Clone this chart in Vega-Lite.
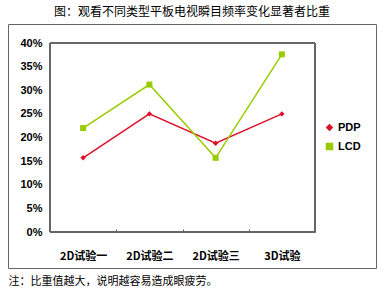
{
  "$schema": "https://vega.github.io/schema/vega-lite/v6.json",
  "width": 368,
  "height": 244,
  "autosize": "none",
  "padding": {"left": 8, "top": 24, "right": 15, "bottom": 23},
  "title": {
    "text": "图：观看不同类型平板电视瞬目频率变化显著者比重",
    "font": "Noto Sans CJK SC",
    "fontSize": 12,
    "fontWeight": "normal",
    "color": "#000000",
    "anchor": "middle",
    "offset": 5
  },
  "data": {
    "values": [
      {"cat": "2D试验一", "series": "PDP", "value": 0.157},
      {"cat": "2D试验二", "series": "PDP", "value": 0.25},
      {"cat": "2D试验三", "series": "PDP", "value": 0.188},
      {"cat": "3D试验", "series": "PDP", "value": 0.25},
      {"cat": "2D试验一", "series": "LCD", "value": 0.22},
      {"cat": "2D试验二", "series": "LCD", "value": 0.312},
      {"cat": "2D试验三", "series": "LCD", "value": 0.157},
      {"cat": "3D试验", "series": "LCD", "value": 0.376}
    ]
  },
  "layer": [
    {
      "mark": {"type": "line", "strokeWidth": 1.5},
      "encoding": {
        "x": {
          "field": "cat", "type": "nominal", "sort": null,
          "scale": {"type": "band", "range": [42, 307], "paddingInner": 0, "paddingOuter": 0},
          "axis": {
            "orient": "bottom", "offset": -36,
            "title": "注：比重值越大，说明越容易造成眼疲劳。",
            "titleFont": "Noto Sans CJK SC", "titleFontSize": 11, "titleFontWeight": "normal",
            "titleColor": "#000000", "titleX": 0, "titleY": 49, "titleAlign": "left", "titleBaseline": "middle",
            "titleAnchor": "start",
            "labelAngle": 0, "labelFont": "Noto Sans CJK SC", "labelFontSize": 11, "labelFontWeight": "bold",
            "labelColor": "#000000", "labelPadding": 21,
            "tickBand": "extent", "ticks": true, "tickSize": -3, "tickWidth": 1, "tickColor": "#555555",
            "domain": true, "domainColor": "#666666", "grid": false
          }
        },
        "y": {
          "field": "value", "type": "quantitative",
          "scale": {"domain": [0, 0.4], "nice": false, "range": [208, 19]},
          "axis": {
            "orient": "left", "offset": -42, "title": null,
            "values": [0, 0.05, 0.1, 0.15, 0.2, 0.25, 0.3, 0.35, 0.4],
            "format": ".0%",
            "labelFont": "Liberation Sans", "labelFontSize": 11, "labelFontWeight": "bold",
            "labelColor": "#000000", "labelPadding": 8,
            "ticks": false, "tickSize": 0, "domain": true, "domainColor": "#666666", "grid": false
          }
        },
        "color": {
          "field": "series", "type": "nominal",
          "scale": {"domain": ["PDP", "LCD"], "range": ["#E0102A", "#99CC00"]},
          "legend": {
            "title": null, "orient": "none", "legendX": 316, "legendY": 98,
            "labelFont": "Liberation Sans", "labelFontSize": 11, "labelFontWeight": "bold",
            "labelColor": "#000000", "symbolSize": 289, "labelOffset": 3, "rowPadding": 6,
            "symbolStrokeWidth": 1.5,
            "encode": {
              "symbols": {
                "update": {
                  "shape": {"signal": "datum.value === 'PDP' ? 'M-1,0L1,0M0,-0.35L0.35,0L0,0.35L-0.35,0Z' : 'M-1,0L1,0M-0.35,-0.35H0.35V0.35H-0.35Z'"},
                  "fill": {"signal": "scale('color', datum.value)"},
                  "fillOpacity": {"value": 1}
                }
              }
            }
          }
        }
      }
    },
    {
      "mark": {"type": "point", "filled": true, "opacity": 1, "strokeWidth": 0},
      "encoding": {
        "x": {"field": "cat", "type": "nominal", "sort": null, "axis": null},
        "y": {"field": "value", "type": "quantitative", "axis": null},
        "fill": {
          "field": "series", "type": "nominal",
          "scale": {"domain": ["PDP", "LCD"], "range": ["#E0102A", "#99CC00"]},
          "legend": null
        },
        "shape": {
          "field": "series", "type": "nominal",
          "scale": {"domain": ["PDP", "LCD"], "range": ["diamond", "square"]},
          "legend": null
        },
        "size": {
          "field": "series", "type": "nominal",
          "scale": {"domain": ["PDP", "LCD"], "range": [30, 36]},
          "legend": null
        }
      }
    },
    {
      "mark": {"type": "rect", "filled": false, "stroke": "#666666", "strokeWidth": 1, "fill": null},
      "encoding": {
        "x": {"datum": "2D试验一", "bandPosition": 0, "type": "nominal", "axis": null},
        "x2": {"datum": "3D试验", "bandPosition": 1},
        "y": {"datum": 0, "type": "quantitative", "axis": null},
        "y2": {"datum": 0.4}
      }
    }
  ],
  "resolve": {"axis": {"x": "independent", "y": "independent"}},
  "config": {
    "view": {"stroke": "#666666", "strokeWidth": 1}
  }
}
